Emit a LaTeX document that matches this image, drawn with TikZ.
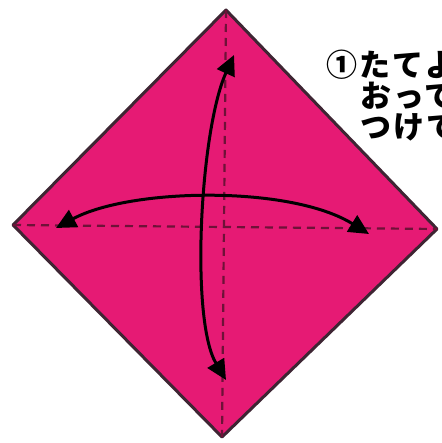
\documentclass[tikz,border=0pt]{standalone}
\usepackage{fontspec}
\newfontfamily\cjk[LetterSpace=7]{Noto Sans CJK JP}
\usetikzlibrary{arrows.meta}
\definecolor{paper}{HTML}{E61A74}
\definecolor{edge}{HTML}{3E2533}
\definecolor{crease}{HTML}{6E1238}
\tikzset{
  sheet/.style={fill=paper,draw=edge,line width=3pt,line join=round},
  foldline/.style={draw=crease,line width=2.2pt,dash pattern=on 8pt off 6pt},
  turnarrow/.style={draw=black,line width=3pt,line cap=round,
    {Triangle[length=20pt,width=19pt]}-{Triangle[length=20pt,width=19pt]}},
  caption/.style={font=\cjk\bfseries\fontsize{31pt}{31pt}\selectfont,anchor=base west,inner sep=0pt,text=black}
}
\begin{document}
\begin{tikzpicture}[x=1pt,y=-1pt]
\useasboundingbox (0,0) rectangle (441,443);
\clip (0,0) rectangle (441,443);
\fill[white] (0,0) rectangle (441,443);
\coordinate (T) at (226,10);
\coordinate (R) at (437,229);
\coordinate (B) at (222,437);
\coordinate (L) at (13,225);
\path[sheet] (T) -- (R) -- (B) -- (L) -- cycle;
\path[foldline] (T) -- (B);
\path[foldline] (L) -- (R);
\coordinate (vt) at (234,55);
\coordinate (vb) at (226,380);
\coordinate (hl) at (56,228);
\coordinate (hr) at (369,234);
\path[turnarrow] (hl) .. controls (130,188) and (290,185) .. (hr);
\path[turnarrow] (vt) .. controls (200,130) and (190,320) .. (vb);
\node[caption] (l1) at (326,77) {①たてよ};
\node[caption] (l2) at (360,108) {おって};
\node[caption] (l3) at (360,139) {つけて};
\end{tikzpicture}
\end{document}
